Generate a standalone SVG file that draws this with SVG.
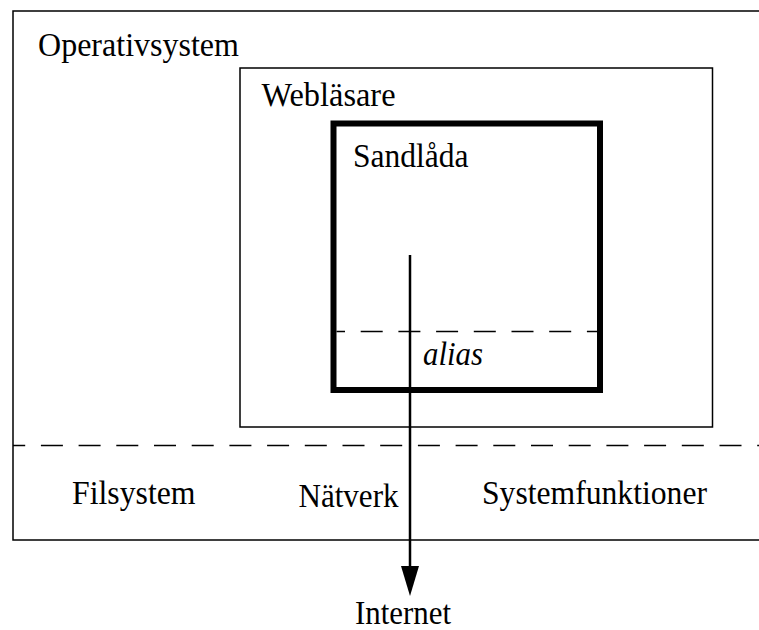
<svg xmlns="http://www.w3.org/2000/svg" width="759" height="630" viewBox="0 0 759 630">
<defs>
<style>
text{font-family:"Liberation Serif","Times New Roman",serif;font-size:34px;fill:#000}
.box{fill:none;stroke:#000;stroke-width:1.5}
.thick{fill:none;stroke:#000;stroke-width:6}
.dash{stroke:#000;stroke-width:1.5;fill:none;stroke-dasharray:22 15.7}
</style>
</defs>
<rect width="759" height="630" fill="#fff"/>
<g id="os">
<rect class="box" x="13" y="11" width="760" height="529"/>
<text x="38" y="56" textLength="201" lengthAdjust="spacingAndGlyphs">Operativsystem</text>
<line class="dash" x1="13" y1="445.5" x2="759" y2="445.5" stroke-dashoffset="9.8"/>
<text x="72" y="504" textLength="123.5" lengthAdjust="spacingAndGlyphs">Filsystem</text>
<text x="298.5" y="507" textLength="100" lengthAdjust="spacingAndGlyphs">Nätverk</text>
<text x="482" y="504" textLength="225" lengthAdjust="spacingAndGlyphs">Systemfunktioner</text>
</g>
<g id="browser">
<rect class="box" x="240" y="68" width="472.5" height="359"/>
<text x="261.5" y="106" textLength="134" lengthAdjust="spacingAndGlyphs">Webläsare</text>
</g>
<g id="sandbox">
<rect class="thick" x="333.5" y="123.5" width="266.5" height="266.5"/>
<text x="353" y="167" textLength="115.5" lengthAdjust="spacingAndGlyphs">Sandlåda</text>
<line class="dash" x1="336.5" y1="331.5" x2="597" y2="331.5" stroke-dashoffset="13.5"/>
<text x="423" y="365" font-style="italic" textLength="60" lengthAdjust="spacingAndGlyphs">alias</text>
</g>
<g id="internet">
<text x="355" y="624" textLength="96" lengthAdjust="spacingAndGlyphs">Internet</text>
</g>
<g id="connectors">
<line x1="410" y1="255" x2="410" y2="568" stroke="#000" stroke-width="2.5"/>
<path d="M401,566 L419,566 L410,596 Z" fill="#000"/>
</g>
</svg>
